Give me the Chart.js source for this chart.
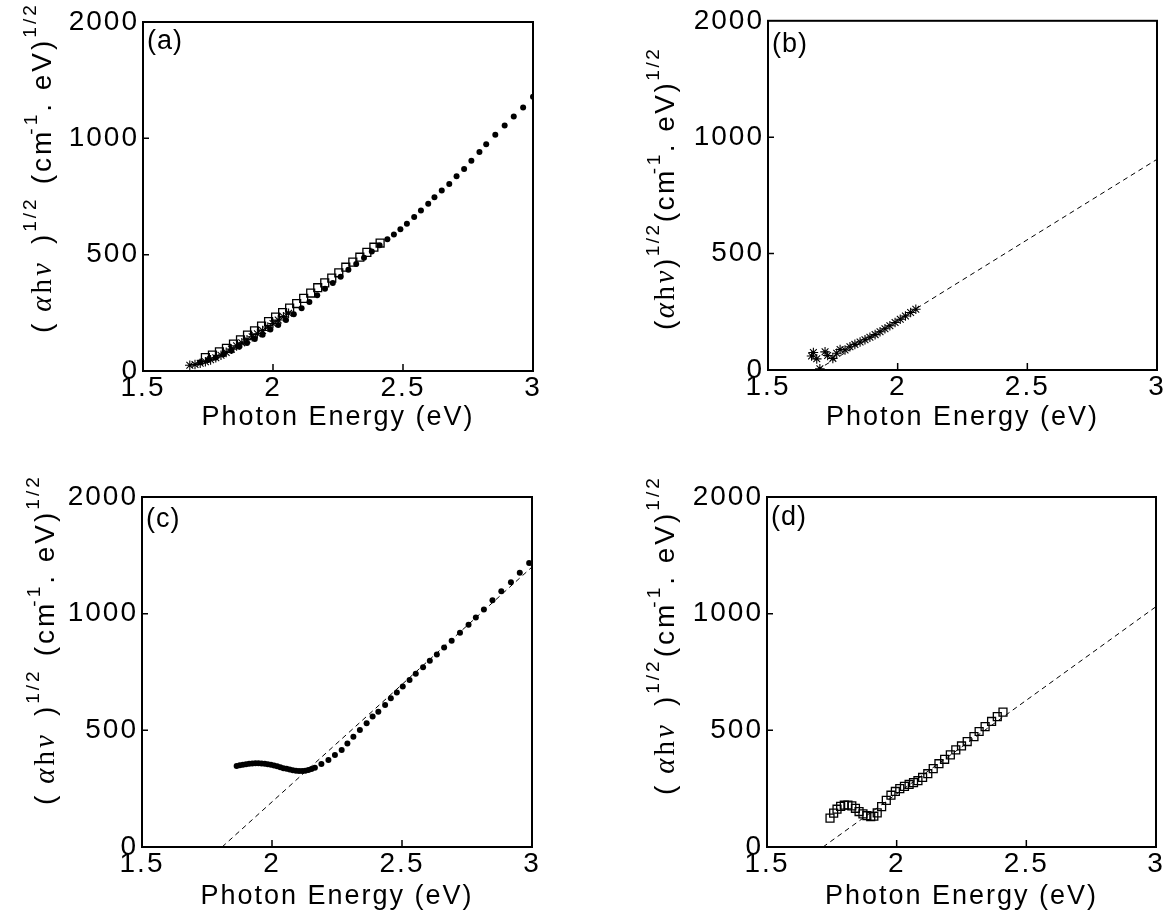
<!DOCTYPE html>
<html>
<head>
<meta charset="utf-8">
<title>(αhν)^1/2 vs photon energy</title>
<script src="https://cdn.jsdelivr.net/npm/chart.js"></script>
<style>
  body { margin: 0; background: #fff; }
  .wrap { position: relative; width: 1170px; height: 919px; }
  canvas { position: absolute; }
</style>
</head>
<body>
<div class="wrap">
  <canvas id="chartA" width="585" height="440" style="left:0;top:0"></canvas>
  <canvas id="chartB" width="585" height="440" style="left:585px;top:0"></canvas>
  <canvas id="chartC" width="585" height="479" style="left:0;top:440px"></canvas>
  <canvas id="chartD" width="585" height="479" style="left:585px;top:440px"></canvas>
</div>
<script>
// axes
const xTicks = [1.5, 2, 2.5, 3];
const xTickLabels = ['1.5', '2', '2.5', '3'];
const yTicks = [0, 500, 1000, 1500];
const yTickLabels = ['0', '500', '1000', '2000'];

// (a) three sets
const aStarE = [1.68, 1.70, 1.72, 1.74, 1.76, 1.78, 1.80, 1.82, 1.84, 1.86, 1.88, 1.90, 1.92, 1.94, 1.96, 1.98, 2.00, 2.02, 2.04, 2.06];
const aStarV = [25, 28, 33, 40, 48, 57, 68, 80, 94, 108, 121, 134, 147, 160, 174, 189, 204, 219, 233, 248];
const aSqE = [1.74, 1.767, 1.794, 1.821, 1.848, 1.875, 1.902, 1.929, 1.956, 1.983, 2.01, 2.037, 2.064, 2.091, 2.118, 2.145, 2.172, 2.199, 2.226, 2.253, 2.28, 2.307, 2.334, 2.361, 2.388, 2.412];
const aSqV = [58, 68, 82, 97, 116, 134, 154, 173, 193, 212, 232, 251, 270, 290, 312, 335, 358, 379, 399, 422, 446, 468, 489, 510, 532, 550];
const aDotE = [1.72, 1.75, 1.78, 1.81, 1.84, 1.87, 1.90, 1.93, 1.96, 1.99, 2.02, 2.05, 2.08, 2.11, 2.14, 2.17, 2.20, 2.23, 2.26, 2.29, 2.32, 2.35, 2.38, 2.41, 2.44, 2.465, 2.49, 2.515, 2.543, 2.569, 2.597, 2.621, 2.649, 2.678, 2.706, 2.735, 2.763, 2.794, 2.82, 2.855, 2.891, 2.926, 2.962, 3.0];
const aDotV = [38, 47, 58, 72, 87, 104, 120, 137, 156, 178, 198, 219, 244, 270, 297, 326, 353, 378, 405, 435, 460, 487, 514, 540, 566, 587, 609, 633, 662, 690, 719, 747, 776, 804, 837, 868, 904, 941, 975, 1015, 1055, 1094, 1132, 1179];

// (b)
const bStarE = [1.668, 1.675, 1.688, 1.70, 1.72, 1.73, 1.75, 1.765, 1.778, 1.797, 1.816, 1.835, 1.855, 1.874, 1.893, 1.913, 1.932, 1.951, 1.97, 1.99, 2.01, 2.03, 2.05, 2.07];
const bStarV = [60, 75, 48, 5, 78, 62, 50, 72, 88, 86, 100, 110, 120, 130, 141, 152, 164, 177, 190, 204, 218, 232, 247, 261];
const bFitE = [1.69, 3.0];
const bFitV = [0, 905];

// (c)
const cDotE = [1.864, 1.876, 1.888, 1.9, 1.912, 1.924, 1.936, 1.948, 1.96, 1.972, 1.984, 1.996, 2.008, 2.02, 2.032, 2.044, 2.056, 2.068, 2.08, 2.092, 2.104, 2.116, 2.128, 2.14, 2.152, 2.165, 2.19, 2.217, 2.242, 2.268, 2.29, 2.313, 2.338, 2.364, 2.387, 2.409, 2.435, 2.457, 2.48, 2.503, 2.529, 2.553, 2.581, 2.607, 2.634, 2.662, 2.691, 2.723, 2.756, 2.784, 2.815, 2.848, 2.882, 2.919, 2.953, 2.989];
const cDotV = [347, 350, 353, 355, 357, 358, 359, 359, 358, 357, 355, 352, 349, 346, 342, 338, 335, 332, 329, 327, 326, 326, 327, 330, 334, 340, 356, 373, 394, 416, 444, 473, 501, 530, 559, 580, 609, 637, 662, 688, 716, 742, 770, 798, 825, 855, 884, 918, 953, 984, 1018, 1058, 1096, 1135, 1175, 1217];
const cFitE = [1.808, 3.0];
const cFitV = [0, 1200];

// (d)
const dSqE = [1.743, 1.757, 1.77, 1.784, 1.798, 1.812, 1.827, 1.841, 1.855, 1.87, 1.885, 1.9, 1.912, 1.925, 1.942, 1.96, 1.978, 1.995, 2.012, 2.03, 2.048, 2.065, 2.082, 2.1, 2.12, 2.141, 2.163, 2.185, 2.207, 2.228, 2.25, 2.272, 2.298, 2.318, 2.341, 2.366, 2.388, 2.41];
const dSqV = [124, 145, 162, 174, 179, 180, 176, 166, 152, 142, 134, 130, 132, 146, 173, 200, 222, 238, 250, 260, 268, 276, 284, 298, 314, 336, 357, 376, 395, 416, 433, 452, 473, 495, 516, 538, 559, 578];
const dFitE = [1.716, 3.0];
const dFitV = [0, 1030];

const SANS = '"Liberation Sans", Arial, Helvetica, sans-serif';
const SERIF = '"Liberation Serif", "DejaVu Serif", serif';

function pts(xs, ys) {
  return xs.map((x, i) => ({ x: x, y: ys[i] }));
}

function dots(xs, ys) {
  return { data: pts(xs, ys), pointStyle: 'circle', pointRadius: 3, backgroundColor: '#000', borderColor: '#000', borderWidth: 0 };
}
function squares(xs, ys) {
  return { data: pts(xs, ys), pointStyle: 'rect', pointRadius: 5.6, backgroundColor: 'rgba(255,255,255,0)', borderColor: '#000', borderWidth: 1.3 };
}
function stars(xs, ys) {
  return { data: pts(xs, ys), pointStyle: 'star', pointRadius: 4.8, backgroundColor: '#000', borderColor: '#000', borderWidth: 1.1 };
}
function fit(xs, ys) {
  return { data: pts(xs, ys), showLine: true, pointRadius: 0, borderColor: '#000', borderWidth: 1, borderDash: [5, 4] };
}

// y axis title with superscripts, drawn rotated
function yTitle(g1, g2, g3) {
  const big = '28px ' + SANS;
  const sup = '19px ' + SANS;
  return [
    { t: '(', font: big },
    { gap: g1 },
    { t: 'α', font: 'italic 29px ' + SERIF },
    { t: 'h', font: '29px ' + SERIF },
    { t: 'ν', font: 'italic 29px ' + SERIF },
    { gap: g2 },
    { t: ')', font: big },
    { t: '1/2', font: sup, rise: 15 },
    { gap: g3 },
    { t: '(cm', font: big },
    { gap: -6 },
    { t: '-1', font: sup, rise: 14 },
    { t: '. eV)', font: big },
    { t: '1/2', font: sup, rise: 15 }
  ];
}

const framePlugin = {
  id: 'frame',
  beforeDraw(chart) {
    chart.ctx.letterSpacing = '2px';
  },
  afterDraw(chart, args, opts) {
    const ctx = chart.ctx;
    const a = chart.chartArea;
    const xs = chart.scales.x, ys = chart.scales.y;
    ctx.save();
    ctx.letterSpacing = '0px';
    ctx.strokeStyle = '#000';
    ctx.lineWidth = 2;
    ctx.strokeRect(a.left, a.top, a.right - a.left, a.bottom - a.top);
    ctx.lineWidth = 1.5;
    ctx.beginPath();
    xTicks.slice(1, -1).forEach(v => {
      const px = xs.getPixelForValue(v);
      ctx.moveTo(px, a.bottom); ctx.lineTo(px, a.bottom - 7);
    });
    yTicks.slice(1, -1).forEach(v => {
      const py = ys.getPixelForValue(v);
      ctx.moveTo(a.left, py); ctx.lineTo(a.left + 6, py);
    });
    ctx.stroke();

    // panel tag
    ctx.fillStyle = '#000';
    ctx.font = '27px ' + SANS;
    ctx.letterSpacing = '1px';
    ctx.textBaseline = 'alphabetic';
    ctx.textAlign = 'left';
    ctx.fillText(opts.tag, a.left + 4, a.top + opts.tagY);

    // rotated y title
    ctx.translate(a.left - opts.titleX, a.bottom - opts.titleY);
    ctx.rotate(-Math.PI / 2);
    ctx.letterSpacing = opts.spacing;
    let pos = 0;
    opts.pieces.forEach(p => {
      if (p.gap !== undefined) { pos += p.gap; return; }
      ctx.font = p.font;
      ctx.fillText(p.t, pos, -(p.rise || 0));
      pos += ctx.measureText(p.t).width;
    });
    ctx.restore();
  }
};

function makePanel(id, box, datasets, frame) {
  const canvas = document.getElementById(id);
  const W = canvas.width, H = canvas.height;
  const tickFont = { family: SANS, size: 28 };
  new Chart(canvas, {
    type: 'scatter',
    data: { datasets: datasets },
    options: {
      responsive: false,
      animation: false,
      events: [],
      layout: { padding: { left: 0, top: box.top, right: W - box.right, bottom: 0 } },
      plugins: { legend: { display: false }, tooltip: { enabled: false }, frame: frame },
      scales: {
        x: {
          type: 'linear', min: 1.5, max: 3,
          afterBuildTicks: s => { s.ticks = xTicks.map(v => ({ value: v })); },
          afterFit: s => { s.height = H - box.bottom; },
          grid: { display: false, drawTicks: false },
          border: { display: false },
          ticks: { color: '#000', font: tickFont, padding: 0, maxRotation: 0, autoSkip: false,
                   callback: (v, i) => xTickLabels[i] },
          title: { display: true, text: 'Photon Energy (eV)', color: '#000', font: { family: SANS, size: 27 },
                   padding: { top: 0, bottom: box.titlePad } }
        },
        y: {
          type: 'linear', min: 0, max: 1500,
          afterBuildTicks: s => { s.ticks = yTicks.map(v => ({ value: v })); },
          afterFit: s => { s.width = box.left; },
          grid: { display: false, drawTicks: false },
          border: { display: false },
          ticks: { color: '#000', font: tickFont, padding: 4, callback: (v, i) => yTickLabels[i] }
        }
      }
    },
    plugins: [framePlugin]
  });
}

makePanel('chartA', { left: 143, top: 22, right: 533, bottom: 371, titlePad: 6 },
  [dots(aDotE, aDotV), squares(aSqE, aSqV), stars(aStarE, aStarV)],
  { tag: '(a)', tagY: 27, titleX: 92, titleY: 38, spacing: '3px', pieces: yTitle(9, 16, 12) });

makePanel('chartB', { left: 183, top: 20, right: 572, bottom: 370, titlePad: 6 },
  [fit(bFitE, bFitV), stars(bStarE, bStarV)],
  { tag: '(b)', tagY: 31, titleX: 94, titleY: 40, spacing: '2.5px', pieces: yTitle(0, 0, 0) });

makePanel('chartC', { left: 142, top: 57, right: 532, bottom: 407, titlePad: 6 },
  [fit(cFitE, cFitV), dots(cDotE, cDotV)],
  { tag: '(c)', tagY: 30, titleX: 88, titleY: 42, spacing: '3px', pieces: yTitle(9, 16, 12) });

makePanel('chartD', { left: 182, top: 57, right: 571, bottom: 407, titlePad: 6 },
  [fit(dFitE, dFitV), squares(dSqE, dSqV)],
  { tag: '(d)', tagY: 28, titleX: 93, titleY: 52, spacing: '3px', pieces: yTitle(9, 16, 1) });
</script>
</body>
</html>
